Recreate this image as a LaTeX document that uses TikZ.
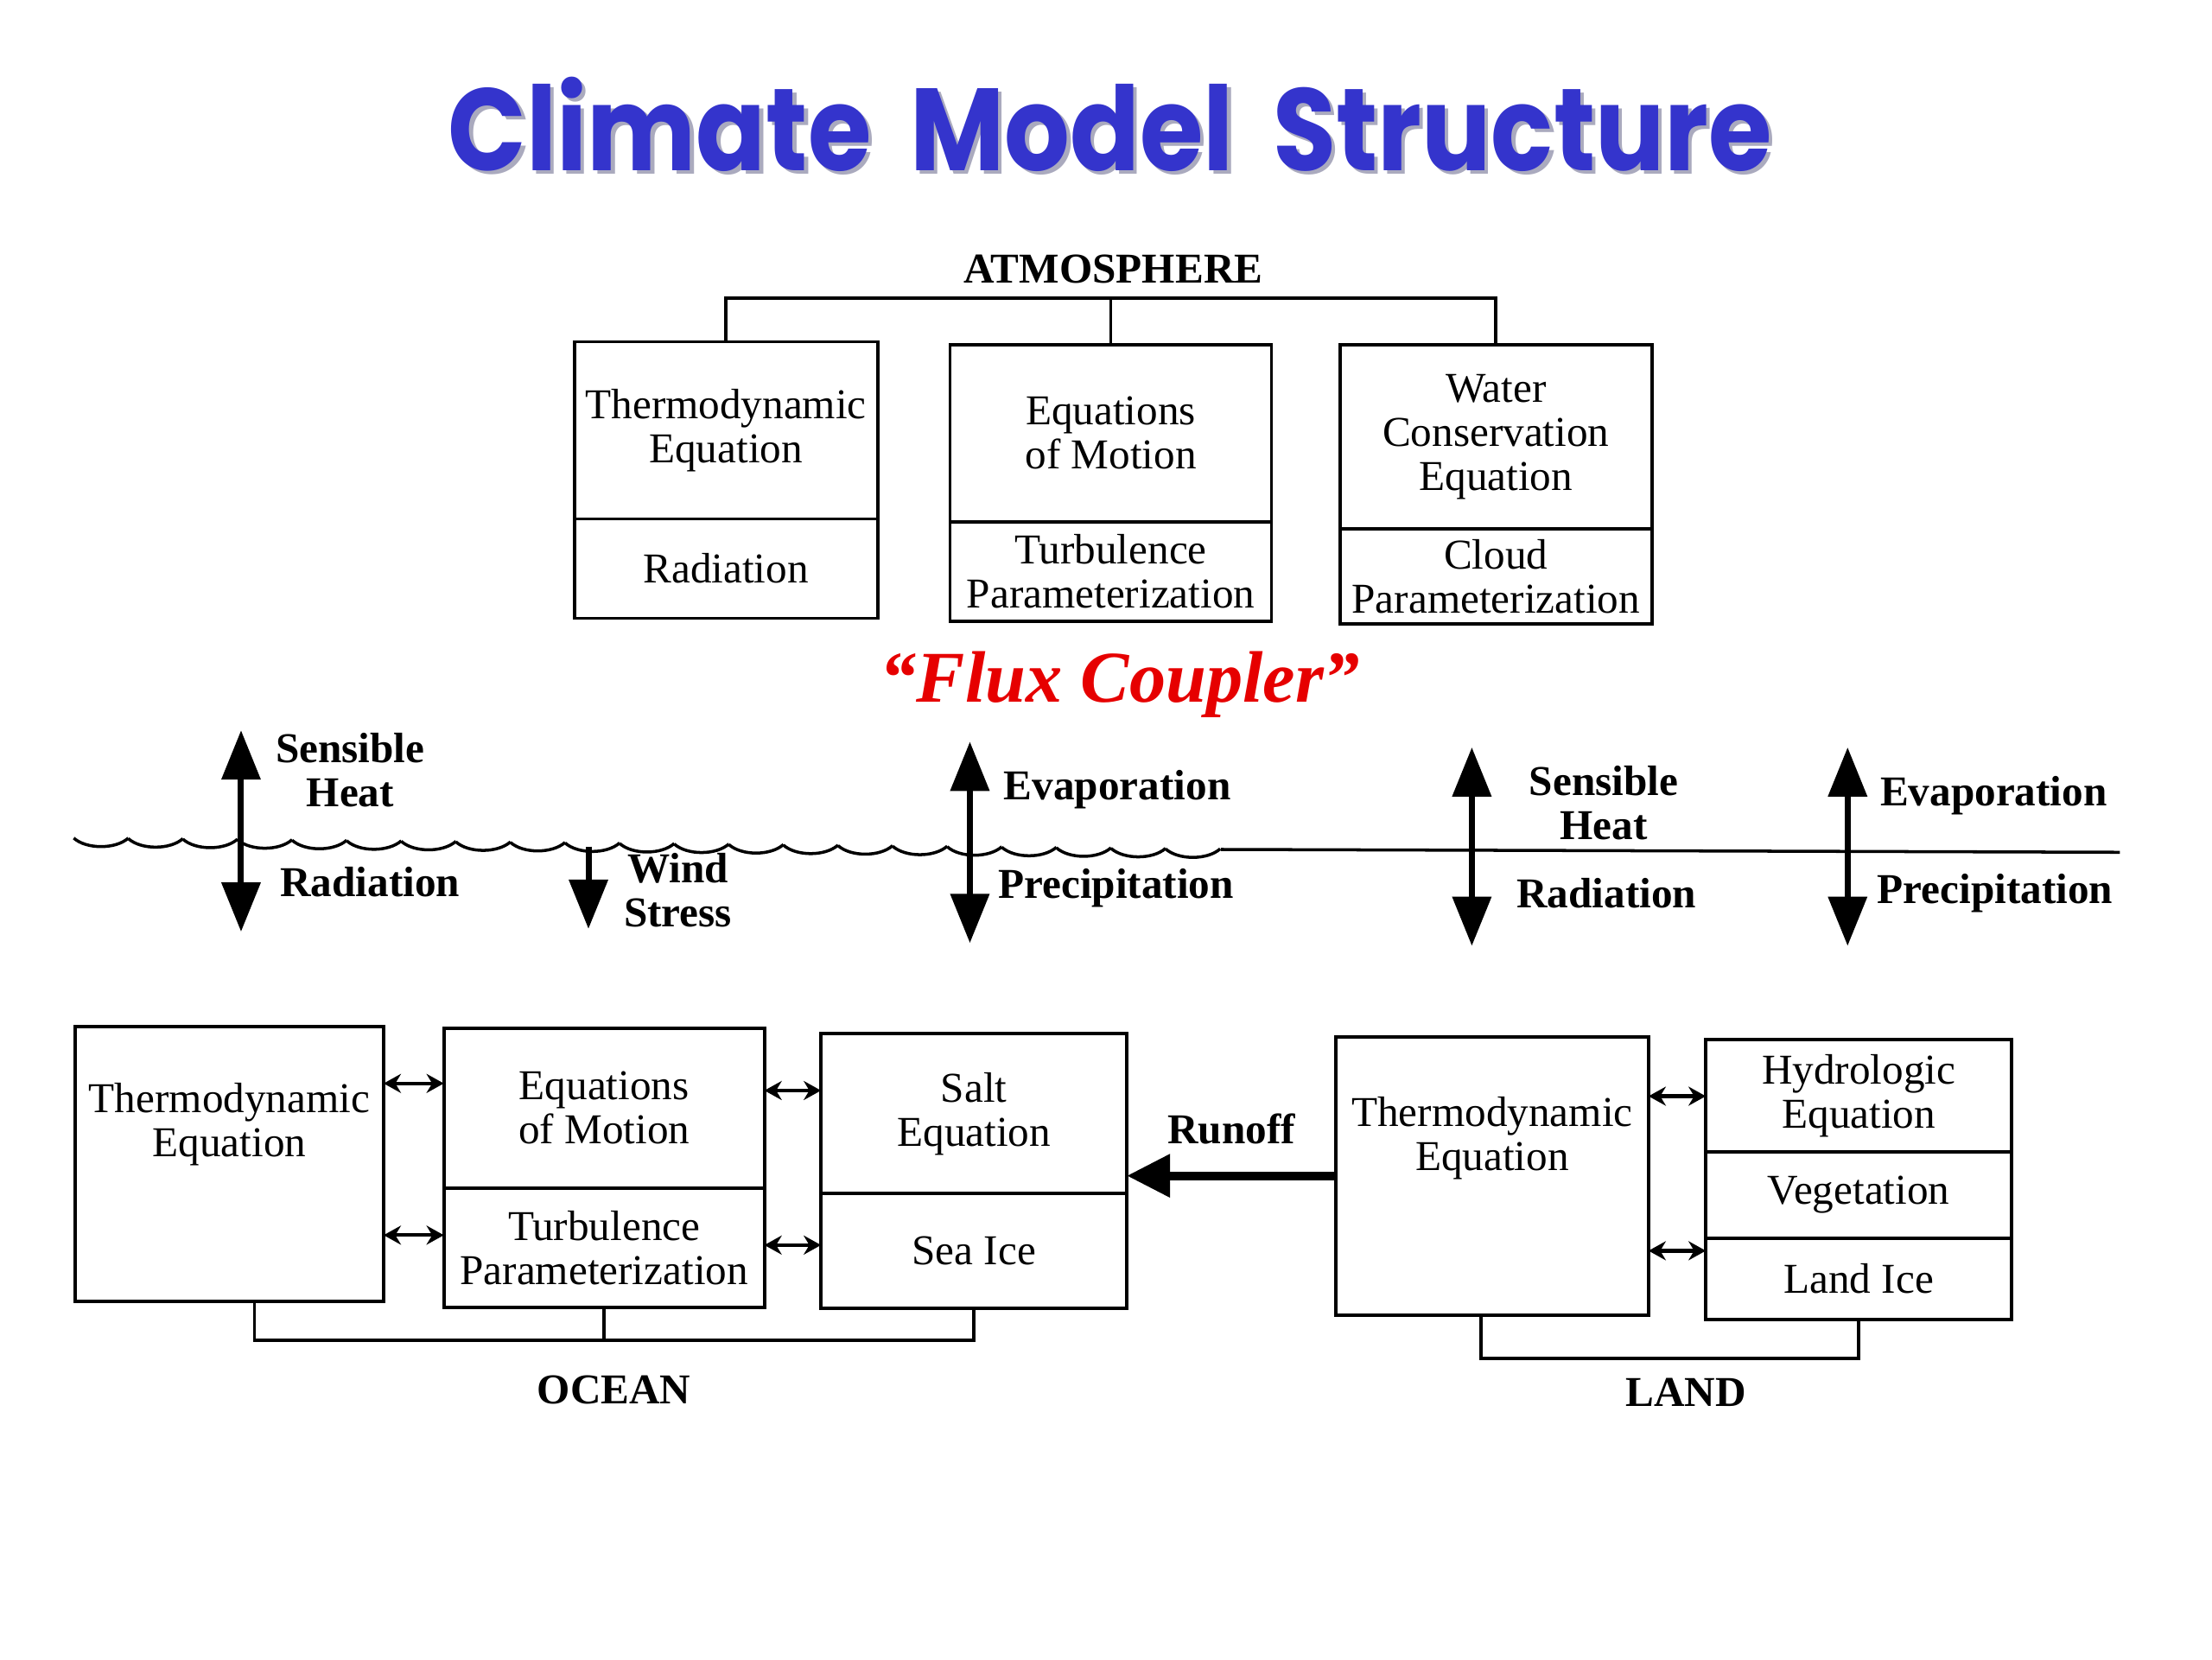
\documentclass[tikz,border=0pt]{standalone}
\usepackage{fontspec}
\setmainfont{Liberation Serif}
\newfontfamily\titlefont[FakeStretch=0.88]{Poppins}
\usepackage{tikz}
\usetikzlibrary{arrows.meta}
\usetikzlibrary{positioning}

\definecolor{titleblue}{RGB}{52,52,204}
\definecolor{shadowgray}{RGB}{170,170,190}
\definecolor{fluxred}{RGB}{230,0,0}

\newcommand{\shadowtext}[1]{\makebox[0pt][l]{\hspace{1.2pt}\raisebox{-1.2pt}{\textcolor{shadowgray}{#1}}}\textcolor{titleblue}{#1}}

\tikzset{
  box/.style={draw, line width=1.1pt, inner sep=1pt, outer sep=0pt, align=center, font=\fontsize{14}{14.5}\selectfont},
  boxtext/.style={inner sep=0pt, align=center, font=\fontsize{14}{14.5}\selectfont},
  lbl/.style={inner sep=0pt, align=center, font=\bfseries\fontsize{14}{14.5}\selectfont},
  bracket/.style={line width=1.1pt},
  wave/.style={line width=1pt},
  flux/.style={{Triangle[length=5.7mm,width=4.4mm]}-{Triangle[length=5.7mm,width=4.4mm]}, line width=2pt},
  fluxdown/.style={-{Triangle[length=5.7mm,width=4.4mm]}, line width=2pt},
  link/.style={{Stealth[length=2mm,width=2.2mm]}-{Stealth[length=2mm,width=2.2mm]}, line width=1.2pt},
  runoff/.style={-{Triangle[length=5mm,width=4.8mm]}, line width=2.8pt}
}

\begin{document}
\begin{tikzpicture}[x=0.1641mm, y=-0.1641mm]
  \useasboundingbox (0,0) rectangle (1560,1170);

  % title
  \node (title) [font=\titlefont\bfseries\fontsize{38.5}{40}\selectfont] at (783,89) {\shadowtext{Climate\,\,Model\,\,Structure}};

  % atmosphere
  \node (atmLbl) [lbl] at (785,190) {ATMOSPHERE};
  \node (aThermo) [box, anchor=north west, minimum width=35.1mm, minimum height=20.5mm] at (405,241) {Thermodynamic\\Equation};
  \node (aRad) [box, below=0pt of aThermo, minimum width=35.1mm, minimum height=11.5mm] {Radiation};
  \node (aMotion) [box, anchor=north west, minimum width=37.2mm, minimum height=20.5mm] at (670,243) {Equations\\of Motion};
  \node (aTurb) [box, below=0pt of aMotion, minimum width=37.2mm, minimum height=11.5mm] {Turbulence\\Parameterization};
  \node (aWater) [box, anchor=north west, minimum width=36.1mm, minimum height=21.3mm] at (945,243) {Water\\Conservation\\Equation};
  \node (aCloud) [box, below=0pt of aWater, minimum width=36.1mm, minimum height=11mm] {Cloud\\Parameterization};
  \coordinate (atmBar) at (789,210);
  \draw [bracket] (aThermo.north) |- (atmBar) -| (aWater.north);
  \draw [bracket] (aMotion.north |- atmBar) -- (aMotion.north);

  \node (fluxLbl) [font=\bfseries\itshape\fontsize{24}{24}\selectfont, text=fluxred] at (790,483) {“Flux Coupler”};

  % surface
  \foreach \i in {0,...,20} {
    \pgfmathsetmacro{\xa}{52+38.5*\i}
    \pgfmathsetmacro{\xb}{\xa+38.5}
    \pgfmathsetmacro{\ya}{591+0.38*\i}
    \draw [wave] (\xa,\ya) .. controls (\xa+9,\ya+8) and (\xb-9,\ya+8) .. (\xb,\ya);
  }
  \coordinate (shoreL) at (861,599);
  \coordinate (shoreR) at (1495,601);
  \draw [wave] (shoreL) -- (shoreR);

  % fluxes
  \coordinate (oHeatTop) at (170,515);
  \coordinate (oHeatBot) at (170,657);
  \coordinate (windTop) at (415,597);
  \coordinate (windBot) at (415,655);
  \coordinate (oEvapTop) at (684,523);
  \coordinate (oEvapBot) at (684,665);
  \coordinate (lHeatTop) at (1038,527);
  \coordinate (lHeatBot) at (1038,667);
  \coordinate (lEvapTop) at (1303,527);
  \coordinate (lEvapBot) at (1303,667);
  \draw [flux] (oHeatBot) -- (oHeatTop);
  \draw [fluxdown] (windTop) -- (windBot);
  \draw [flux] (oEvapBot) -- (oEvapTop);
  \draw [flux] (lHeatBot) -- (lHeatTop);
  \draw [flux] (lEvapBot) -- (lEvapTop);
  \node (oHeatLbl) [lbl] at (247,543) {Sensible\\Heat};
  \node (oRadLbl) [lbl] at (261,622) {Radiation};
  \node (windLbl) [lbl] at (478,628) {Wind\\Stress};
  \node (oEvapLbl) [lbl] at (788,557) {Evaporation};
  \node (oPrecLbl) [lbl] at (787,626) {Precipitation};
  \node (lHeatLbl) [lbl] at (1131,566) {Sensible\\Heat};
  \node (lRadLbl) [lbl] at (1133,630) {Radiation};
  \node (lEvapLbl) [lbl] at (1406,561) {Evaporation};
  \node (lPrecLbl) [lbl] at (1407,630) {Precipitation};

  % ocean
  \node (oThermo) [box, anchor=north west, minimum width=35.7mm, minimum height=31.8mm] at (53,724) {};
  \node (oThermoTxt) [boxtext] at ([yshift=-11.3mm]oThermo.north) {Thermodynamic\\Equation};
  \node (oMotion) [box, anchor=north west, minimum width=37.1mm, minimum height=18.5mm] at (313,725) {Equations\\of Motion};
  \node (oTurb) [box, below=0pt of oMotion, minimum width=37.1mm, minimum height=13.8mm] {Turbulence\\Parameterization};
  \node (oSalt) [box, anchor=north west, minimum width=35.4mm, minimum height=18.5mm] at (579,729) {Salt\\Equation};
  \node (oSeaIce) [box, below=0pt of oSalt, minimum width=35.4mm, minimum height=13.3mm] {Sea Ice};
  \coordinate (oLinkA) at (0,764);
  \coordinate (oLinkB) at (0,871);
  \coordinate (oLinkC) at (0,769);
  \coordinate (oLinkD) at (0,878);
  \draw [link] (oThermo.east |- oLinkA) -- (oMotion.west |- oLinkA);
  \draw [link] (oThermo.east |- oLinkB) -- (oMotion.west |- oLinkB);
  \draw [link] (oMotion.east |- oLinkC) -- (oSalt.west |- oLinkC);
  \draw [link] (oMotion.east |- oLinkD) -- (oSalt.west |- oLinkD);
  \coordinate (oceanBar) at (430,945);
  \draw [bracket] ([xshift=2.9mm]oThermo.south) |- (oceanBar) -| (oSeaIce.south);
  \draw [bracket] (oTurb.south) -- (oTurb.south |- oceanBar);
  \node (oceanLbl) [lbl] at (433,980) {OCEAN};

  % land
  \node (lThermo) [box, anchor=north west, minimum width=36.2mm, minimum height=32.2mm] at (942,731) {};
  \node (lThermoTxt) [boxtext] at ([yshift=-11.8mm]lThermo.north) {Thermodynamic\\Equation};
  \node (lHydro) [box, anchor=north west, minimum width=35.4mm, minimum height=13mm] at (1203,733) {Hydrologic\\Equation};
  \node (lVeg) [box, below=0pt of lHydro, minimum width=35.4mm, minimum height=10mm] {Vegetation};
  \node (lIce) [box, below=0pt of lVeg, minimum width=35.4mm, minimum height=9.4mm] {Land Ice};
  \coordinate (lLinkA) at (0,773);
  \coordinate (lLinkB) at (0,882);
  \draw [link] (lThermo.east |- lLinkA) -- (lHydro.west |- lLinkA);
  \draw [link] (lThermo.east |- lLinkB) -- (lIce.west |- lLinkB);
  \coordinate (landBar) at (1176,958);
  \draw [bracket] ([xshift=-1.3mm]lThermo.south) |- (landBar) -| (lIce.south);
  \node (landLbl) [lbl] at (1189,982) {LAND};

  \draw [runoff] (lThermo.west) -- (lThermo.west -| oSalt.east) node [lbl, midway, above=9pt] {Runoff};
\end{tikzpicture}
\end{document}
